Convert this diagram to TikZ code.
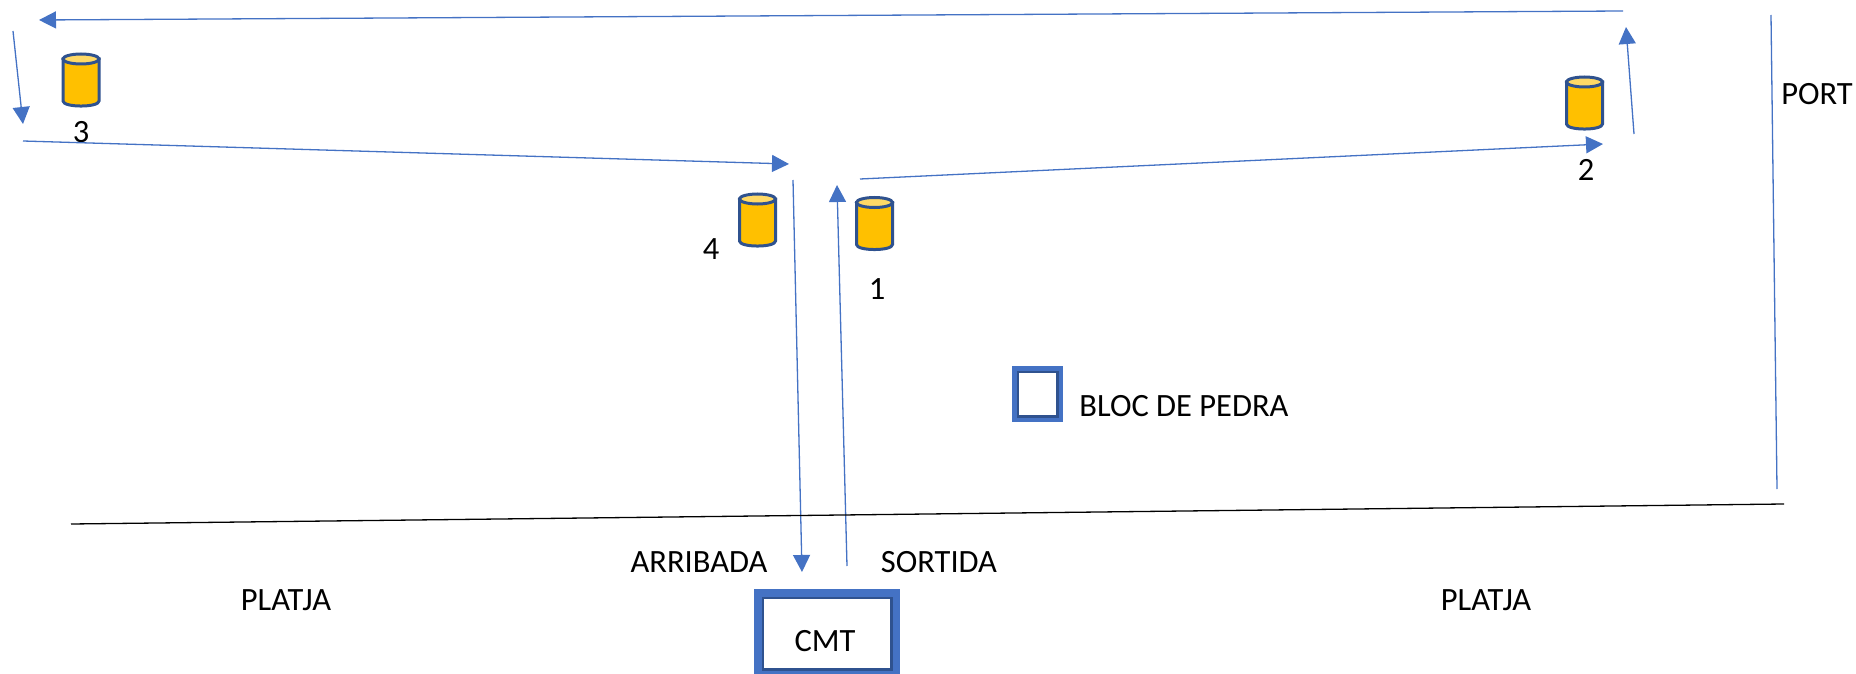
\documentclass[tikz,border=0pt]{standalone}
\usepackage{fontspec}
\setmainfont{Carlito}
\usepackage{tikz}
\usetikzlibrary{arrows.meta}
\definecolor{routeblue}{HTML}{4472C4}
\definecolor{rimdark}{HTML}{2F528F}
\definecolor{drumgold}{HTML}{FFC000}
\definecolor{drumtop}{HTML}{FFD966}
\tikzset{
  route/.style={routeblue,line width=1.3pt,-{Triangle[length=17pt,width=17pt]}},
  rim/.style={draw=routeblue,fill=white,line width=#1,inner sep=0pt},
  rimin/.style={draw=rimdark,line width=2.5pt,inner sep=0pt},
  drum/.pic={
    \draw[rimdark,line width=3pt,fill=drumgold] (-18,-21) -- (-18,21) .. controls (-18,27.7) and (18,27.7) .. (18,21) -- (18,-21) -- cycle;
    \draw[rimdark,line width=3pt,fill=drumtop] (0,-21) ellipse [x radius=18,y radius=5];
  },
  lab/.style={font=\fontsize{32.5}{32.5}\selectfont,text=black,inner sep=0pt}
}
\begin{document}
\begin{tikzpicture}[x=1pt,y=-1pt]
  \useasboundingbox (0,0) rectangle (1856,674);
  \pic (drum3) at (81,80) {drum};
  \pic (drum4) at (757.5,220) {drum};
  \pic (drum1) at (874.5,223.5) {drum};
  \pic (drum2) at (1584.5,103) {drum};
  \node[rim=10pt,minimum width=136pt,minimum height=79pt] (cmt) at (827,633.5) {};
  \node[rimin,minimum width=128.5pt,minimum height=71.5pt] (cmtin) at (cmt) {};
  \node[rim=7pt,minimum width=44pt,minimum height=49pt] (bloc) at (1037.5,394) {};
  \node[rimin,minimum width=39.5pt,minimum height=44.5pt] (blocin) at (bloc) {};
  \node[lab] (n3) at (81,132) {3};
  \node[lab] (n4) at (711,249) {4};
  \node[lab] (n1) at (877,289) {1};
  \node[lab] (n2) at (1586,170) {2};
  \node[lab] (port) at (1817,94) {PORT};
  \node[lab] (cmtname) at (825,641) {CMT};
  \node[lab] (blocname) at (1184,406) {BLOC DE PEDRA};
  \node[lab] (arribada) at (699,562) {ARRIBADA};
  \node[lab] (sortida) at (939,562) {SORTIDA};
  \node[lab] (platja1) at (286,600) {PLATJA};
  \node[lab] (platja2) at (1486,600) {PLATJA};
  \coordinate (top1) at (1623,11);
  \coordinate (top2) at (39,20);
  \coordinate (left1) at (13,31);
  \coordinate (left2) at (23,124);
  \coordinate (back1) at (23,141);
  \coordinate (back2) at (789,164);
  \coordinate (out1) at (860,179);
  \coordinate (out2) at (1603,144);
  \coordinate (up1) at (1634,134);
  \coordinate (up2) at (1626,27);
  \coordinate (arr1) at (793,180);
  \coordinate (arr2) at (802,572);
  \coordinate (sor1) at (847,566);
  \coordinate (sor2) at (837,185);
  \coordinate (port1) at (1771,15);
  \coordinate (port2) at (1777,489);
  \coordinate (shore1) at (71,524);
  \coordinate (shore2) at (1784,504);
  \draw[route] (top1) -- (top2);
  \draw[route] (left1) -- (left2);
  \draw[route] (back1) -- (back2);
  \draw[route] (out1) -- (out2);
  \draw[route] (up1) -- (up2);
  \draw[route] (arr1) -- (arr2);
  \draw[route] (sor1) -- (sor2);
  \draw[routeblue,line width=1.3pt] (port1) -- (port2);
  \draw[black,line width=1.3pt] (shore1) -- (shore2);
\end{tikzpicture}
\end{document}
